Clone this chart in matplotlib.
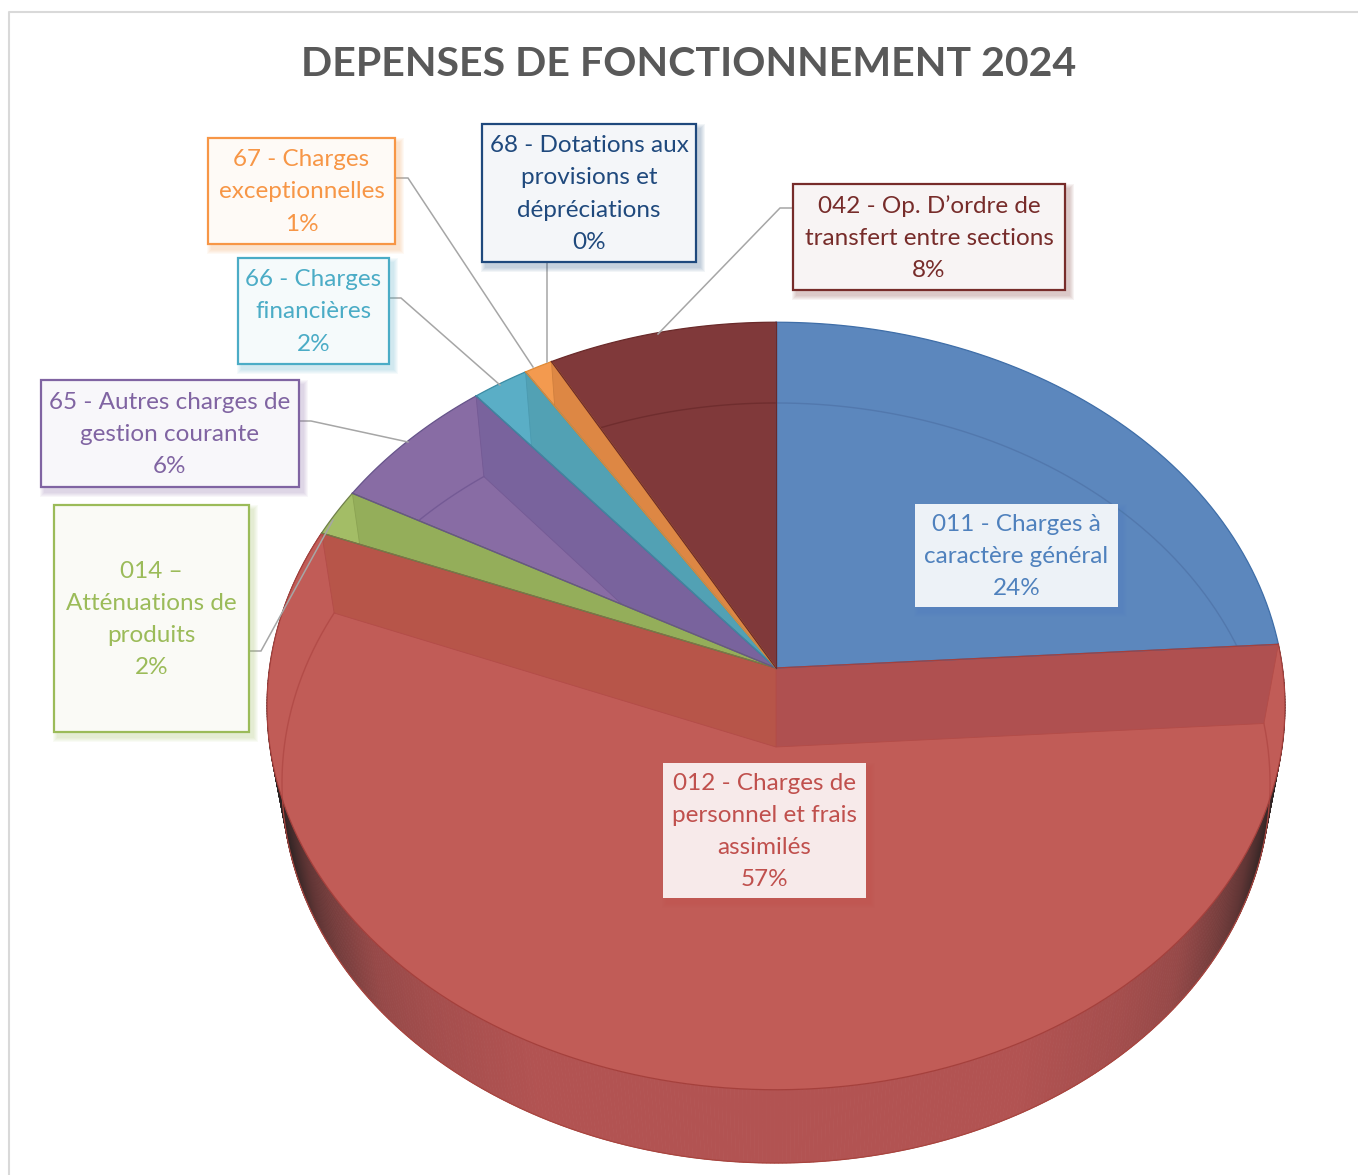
import numpy as np
import matplotlib
matplotlib.use("Agg")
import matplotlib.pyplot as plt
from matplotlib.patches import Polygon, Rectangle
from matplotlib.collections import PolyCollection
from matplotlib.colors import to_rgb

TITLE = "DEPENSES DE FONCTIONNEMENT 2024"

# Budget chapters, clockwise from twelve o'clock
chapters = [
    "011 - Charges à\ncaractère général",
    "012 - Charges de\npersonnel et frais\nassimilés",
    "014 –\nAtténuations de\nproduits",
    "65 - Autres charges de\ngestion courante",
    "66 - Charges\nfinancières",
    "67 - Charges\nexceptionnelles",
    "68 - Dotations aux\nprovisions et\ndépréciations",
    "042 - Op. D’ordre de\ntransfert entre sections",
]
shares = [24, 57, 2, 6, 2, 1, 0, 8]

# Slice styling: outer rim colour, inner wall colours, line colours
series_colors = ["#4f81bd", "#c0504d", "#9bbb59", "#8064a2", "#4bacc6", "#f79646", "#1f497d", "#772c2a"]
face_colors = ["#5c87bd", "#c15c57", "#a3bd66", "#886ca4", "#5aaec6", "#f39a4f", "#1f497d", "#80393a"]
wall_start_colors = ["#5c87bd", "#af5050", "#94ae5a", "#79639d", "#52a1b4", "#dd8744", "#1f497d", "#80393a"]
wall_end_colors = ["#5c87bd", "#b75549", "#94ae5a", "#79639d", "#52a1b4", "#dd8744", "#1f497d", "#80393a"]
edge_colors = ["#3f6ea8", "#a5403c", "#6f7f4a", "#66548a", "#3b8ba3", "#e08a35", "#1f497d", "#6a2a2a"]
arc_colors = ["#5278ad", "#b34c48", "#8ba352", "#745a95", "#4b9ab0", "#d07f3e", "#1f497d", "#6f2d2e"]

# Label boxes as left, top, right, bottom in pixels
label_boxes = [
    (915, 504, 1118, 607), (663, 763, 866, 898), (54, 505, 249, 732), (41, 380, 299, 487),
    (238, 258, 389, 364), (208, 138, 395, 244), (482, 124, 696, 262), (793, 184, 1065, 290),
]
box_fills = ["#edf2f7", "#f7eaea", "#fafaf6", "#f8f7fa", "#f5fafb", "#fefaf6", "#f4f6f9", "#f8f4f4"]
box_bordered = [False, False, True, True, True, True, True, True]

# Leader lines as polylines in pixels
leaders = [
    [(249, 651), (261, 651), (333, 520)],
    [(299, 421), (311, 421), (408, 442)],
    [(389, 298), (401, 298), (500, 385)],
    [(395, 178), (408, 178), (533, 367)],
    [(547, 263), (547, 362)],
    [(793, 208), (780, 208), (658, 334)],
]

TOP = dict(cx=776.0, cy=668.0, a=506.5, b=380.0, k=0.099)
FLOOR = dict(cx=776.0, cy=747.0, a=491.8, b=376.6, k=0.0947)

FONT = "Lato"


def ring(pct, disc):
    """Project a cumulative percentage onto the perspective circle of a disc."""
    theta = 2 * np.pi * np.asarray(pct, dtype=float) / 100.0
    u, v = np.sin(theta), np.cos(theta)
    w = 1 + disc["k"] * v
    return np.column_stack((disc["cx"] + disc["a"] * u / w, disc["cy"] - disc["b"] * v / w))


def centre(disc):
    return np.array([[disc["cx"], disc["cy"]]])


def shade_side(x):
    """Darken the outer wall towards the silhouette ends."""
    base = np.array(to_rgb("#b25352"))
    dark = np.array(to_rgb("#2a2222"))
    t = np.interp(abs(x - TOP["cx"]), [0, 236, 336, 391, 403, 436, 457, 476, 491],
                  [0, 0, 0.10, 0.20, 0.26, 0.45, 0.60, 0.85, 1.0])
    return base + (dark - base) * t


fig = plt.figure(figsize=(13.58, 11.75), dpi=100, facecolor="white")
ax = fig.add_axes([0, 0, 1, 1])
ax.set_xlim(0, 1358)
ax.set_ylim(1175, 0)
ax.axis("off")

# Chart frame
ax.plot([9, 9, 1358], [1175, 12, 12], color="#d9d9d9", lw=1.5, zorder=1)

ax.text(688.5, 64, TITLE, ha="center", va="center", fontsize=29.6, fontweight="bold",
        color="#595959", family=FONT, zorder=2)

cum = np.concatenate(([0], np.cumsum(shares)))

# Outer wall of the drum
front = np.linspace(cum[1], cum[2], 500)
t_pts, f_pts = ring(front, TOP), ring(front, FLOOR)
quads, quad_colors = [], []
for i in range(len(front) - 1):
    quads.append([t_pts[i], t_pts[i + 1], f_pts[i + 1], f_pts[i]])
    quad_colors.append(shade_side(0.5 * (f_pts[i, 0] + f_pts[i + 1, 0])))
ax.add_collection(PolyCollection(quads, facecolors=quad_colors, edgecolors=quad_colors,
                                 linewidths=0.6, zorder=3))
ax.plot(f_pts[:, 0], f_pts[:, 1], color="#a8453f", lw=0.9, zorder=3.5)

# Top faces with the inner walls and floor arc showing through
for i, share in enumerate(shares):
    if share == 0:
        continue
    arc = np.linspace(cum[i], cum[i + 1], max(int(share * 8), 8))
    outline = np.vstack((centre(TOP), ring(arc, TOP)))
    face = Polygon(outline, closed=True, facecolor=face_colors[i], edgecolor="none", zorder=4)
    ax.add_patch(face)

    wall_specs = [(cum[i], wall_start_colors[i]), (cum[i + 1], wall_end_colors[i])]
    for pct, colour in wall_specs:
        quad = np.vstack((centre(TOP), centre(FLOOR), ring([pct], FLOOR), ring([pct], TOP)))
        wall = Polygon(quad, closed=True, facecolor=colour, edgecolor=arc_colors[i], lw=0.6, zorder=4.2)
        ax.add_patch(wall)
        wall.set_clip_path(face)

    floor_arc = ring(arc, FLOOR)
    floor_line, = ax.plot(floor_arc[:, 0], floor_arc[:, 1], color=arc_colors[i], lw=1.0, zorder=4.3)
    floor_line.set_clip_path(face)

# Slice outlines on top of every face
for i, share in enumerate(shares):
    if share == 0:
        continue
    arc = np.linspace(cum[i], cum[i + 1], max(int(share * 8), 8))
    rim = ring(arc, TOP)
    ax.plot(rim[:, 0], rim[:, 1], color=edge_colors[i], lw=0.9, zorder=4.6)
    for end in (rim[0], rim[-1]):
        ax.plot([TOP["cx"], end[0]], [TOP["cy"], end[1]], color=edge_colors[i], lw=0.9, zorder=4.6)

# Leader lines
for path in leaders:
    xs, ys = zip(*path)
    ax.plot(xs, ys, color="#a6a6a6", lw=1.1, zorder=5, solid_joinstyle="miter")

# Data labels
for name, share, box, fill, bordered, colour in zip(chapters, shares, label_boxes, box_fills,
                                                    box_bordered, series_colors):
    left, top, right, bottom = box
    width, height = right - left, bottom - top
    for grow in range(5, 0, -1):
        ax.add_patch(Rectangle((left + 4 - grow, top + 5 - grow), width + 2 * grow, height + 2 * grow,
                               facecolor=colour, edgecolor="none", alpha=0.055, zorder=6))
    ax.add_patch(Rectangle((left, top), width, height, facecolor=fill,
                           edgecolor=colour if bordered else "none", lw=1.6, zorder=7))
    ax.text((left + right) / 2, (top + bottom) / 2 + 1, f"{name}\n{share}%", ha="center", va="center",
            fontsize=17.5, color=colour, family=FONT, linespacing=1.66, zorder=8)

fig.savefig("out.png", dpi=100)
